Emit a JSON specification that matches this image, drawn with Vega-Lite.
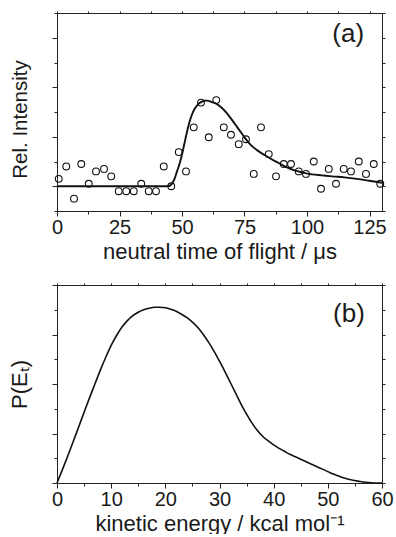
{
  "$schema": "https://vega.github.io/schema/vega-lite/v6.json",
  "padding": {"left": 8, "top": 10, "right": 0, "bottom": 0},
  "spacing": 20,
  "config": {
    "font": "Liberation Sans",
    "view": {"stroke": null},
    "axis": {
      "grid": false,
      "domainColor": "#222",
      "tickColor": "#222",
      "labelColor": "#1a1a1a",
      "titleColor": "#1a1a1a",
      "labelFontSize": 20,
      "titleFontSize": 22,
      "titleFontWeight": "normal",
      "labelFont": "Liberation Sans",
      "titleFont": "Liberation Sans",
      "domainWidth": 1,
      "tickWidth": 1
    }
  },
  "datasets": {
    "pts": [
      {"t": 0.7, "i": 0.15}, {"t": 3.7, "i": 0.4}, {"t": 6.8, "i": -0.25}, {"t": 9.7, "i": 0.45},
      {"t": 12.7, "i": 0.05}, {"t": 15.6, "i": 0.3}, {"t": 18.8, "i": 0.35}, {"t": 21.7, "i": 0.2},
      {"t": 24.7, "i": -0.1}, {"t": 27.7, "i": -0.1}, {"t": 30.7, "i": -0.1}, {"t": 33.7, "i": 0.05},
      {"t": 36.7, "i": -0.1}, {"t": 39.6, "i": -0.1}, {"t": 42.7, "i": 0.4}, {"t": 45.7, "i": 0.0},
      {"t": 48.7, "i": 0.69}, {"t": 51.6, "i": 0.3}, {"t": 54.7, "i": 1.19}, {"t": 57.6, "i": 1.69},
      {"t": 60.7, "i": 0.99}, {"t": 63.7, "i": 1.74}, {"t": 66.7, "i": 1.19}, {"t": 69.6, "i": 1.04},
      {"t": 72.7, "i": 0.85}, {"t": 75.6, "i": 0.95}, {"t": 78.7, "i": 0.25}, {"t": 81.6, "i": 1.19},
      {"t": 84.7, "i": 0.65}, {"t": 87.6, "i": 0.2}, {"t": 90.7, "i": 0.45}, {"t": 93.6, "i": 0.45},
      {"t": 96.7, "i": 0.3}, {"t": 99.6, "i": 0.25}, {"t": 102.7, "i": 0.5}, {"t": 105.6, "i": -0.05},
      {"t": 108.7, "i": 0.35}, {"t": 111.6, "i": 0.05}, {"t": 114.7, "i": 0.35}, {"t": 117.6, "i": 0.3},
      {"t": 120.7, "i": 0.5}, {"t": 123.6, "i": 0.25}, {"t": 126.7, "i": 0.45}, {"t": 129.3, "i": 0.05}
    ],
    "fit": [
      {"t": 0, "i": 0}, {"t": 44, "i": 0}, {"t": 45, "i": 0.01}, {"t": 46, "i": 0.05}, {"t": 47, "i": 0.15},
      {"t": 48, "i": 0.3}, {"t": 49, "i": 0.45}, {"t": 50, "i": 0.64}, {"t": 51, "i": 0.87}, {"t": 52, "i": 1.1},
      {"t": 53, "i": 1.3}, {"t": 54, "i": 1.45}, {"t": 55, "i": 1.56}, {"t": 56, "i": 1.63}, {"t": 57, "i": 1.68},
      {"t": 58, "i": 1.71}, {"t": 59, "i": 1.73}, {"t": 60, "i": 1.73}, {"t": 61, "i": 1.72}, {"t": 62, "i": 1.7},
      {"t": 64, "i": 1.66}, {"t": 66, "i": 1.58}, {"t": 68, "i": 1.47}, {"t": 70, "i": 1.34}, {"t": 72, "i": 1.2},
      {"t": 74, "i": 1.06}, {"t": 76, "i": 0.92}, {"t": 78, "i": 0.81}, {"t": 80, "i": 0.73}, {"t": 83, "i": 0.63},
      {"t": 86, "i": 0.54}, {"t": 89, "i": 0.46}, {"t": 92, "i": 0.38}, {"t": 95, "i": 0.32}, {"t": 98, "i": 0.28},
      {"t": 102, "i": 0.24}, {"t": 106, "i": 0.22}, {"t": 110, "i": 0.2}, {"t": 115, "i": 0.18}, {"t": 120, "i": 0.15},
      {"t": 125, "i": 0.11}, {"t": 130, "i": 0.07}
    ],
    "pe": [
      {"e": 0, "p": 0}, {"e": 1, "p": 0.27}, {"e": 2, "p": 0.55}, {"e": 3, "p": 0.84}, {"e": 4, "p": 1.13},
      {"e": 5, "p": 1.43}, {"e": 6, "p": 1.72}, {"e": 7, "p": 2.0}, {"e": 8, "p": 2.28}, {"e": 9, "p": 2.54},
      {"e": 10, "p": 2.78}, {"e": 11, "p": 2.98}, {"e": 12, "p": 3.15}, {"e": 13, "p": 3.28}, {"e": 14, "p": 3.38},
      {"e": 15, "p": 3.45}, {"e": 16, "p": 3.5}, {"e": 17, "p": 3.53}, {"e": 18, "p": 3.55}, {"e": 19, "p": 3.55},
      {"e": 20, "p": 3.54}, {"e": 21, "p": 3.51}, {"e": 22, "p": 3.47}, {"e": 23, "p": 3.41}, {"e": 24, "p": 3.34},
      {"e": 25, "p": 3.25}, {"e": 26, "p": 3.14}, {"e": 27, "p": 3.0}, {"e": 28, "p": 2.84}, {"e": 29, "p": 2.66},
      {"e": 30, "p": 2.46}, {"e": 31, "p": 2.25}, {"e": 32, "p": 2.03}, {"e": 33, "p": 1.81}, {"e": 34, "p": 1.59},
      {"e": 35, "p": 1.39}, {"e": 36, "p": 1.21}, {"e": 37, "p": 1.06}, {"e": 38, "p": 0.94}, {"e": 39, "p": 0.85},
      {"e": 40, "p": 0.77}, {"e": 41, "p": 0.7}, {"e": 42, "p": 0.64}, {"e": 43, "p": 0.58}, {"e": 44, "p": 0.53},
      {"e": 45, "p": 0.48}, {"e": 46, "p": 0.43}, {"e": 47, "p": 0.38}, {"e": 48, "p": 0.33}, {"e": 49, "p": 0.28},
      {"e": 50, "p": 0.23}, {"e": 51, "p": 0.18}, {"e": 52, "p": 0.14}, {"e": 53, "p": 0.1}, {"e": 54, "p": 0.07},
      {"e": 55, "p": 0.05}, {"e": 56, "p": 0.03}, {"e": 57, "p": 0.015}, {"e": 58, "p": 0.005}, {"e": 59, "p": 0},
      {"e": 60, "p": 0}
    ]
  },
  "vconcat": [
    {
      "width": 325,
      "height": 198,
      "layer": [
        {
          "data": {"name": "pts"},
          "mark": {"type": "point", "shape": "circle", "filled": false, "stroke": "#111", "strokeWidth": 1.1, "size": 46, "opacity": 1},
          "encoding": {
            "x": {
              "field": "t", "type": "quantitative",
              "scale": {"domain": [0, 130], "nice": false, "zero": false},
              "axis": {
                "orient": "bottom",
                "values": [0, 12.5, 25, 37.5, 50, 62.5, 75, 87.5, 100, 112.5, 125],
                "tickSize": {"condition": {"test": "datum.value % 25 === 0", "value": 5}, "value": 3},
                "labelExpr": "datum.value % 25 === 0 ? datum.label : ''",
                "labelPadding": 1,
                "labelFlush": false,
                "labelOverlap": false,
                "title": "neutral time of flight / μs",
                "titlePadding": 4
              }
            },
            "y": {
              "field": "i", "type": "quantitative",
              "scale": {"domain": [-0.5, 3.5], "nice": false, "zero": false},
              "axis": {
                "orient": "left",
                "values": [-0.5, 0, 0.5, 1, 1.5, 2, 2.5, 3, 3.5],
                "tickSize": {"condition": {"test": "datum.value % 1 === 0", "value": 5}, "value": 3},
                "labels": false,
                "title": "Rel. Intensity",
                "titleFontSize": 20.5,
                "titleY": 106,
                "titlePadding": 21
              }
            }
          }
        },
        {
          "data": {"name": "fit"},
          "mark": {"type": "line", "color": "#111", "strokeWidth": 1.9, "interpolate": "monotone"},
          "encoding": {
            "x": {
              "field": "t", "type": "quantitative",
              "axis": {"orient": "top", "values": [0, 12.5, 25, 37.5, 50, 62.5, 75, 87.5, 100, 112.5, 125], "labels": false, "tickSize": 2, "title": null}
            },
            "y": {
              "field": "i", "type": "quantitative",
              "axis": {"orient": "right", "values": [-0.5, 0, 0.5, 1, 1.5, 2, 2.5, 3, 3.5], "labels": false, "tickSize": 3, "title": null}
            }
          }
        },
        {
          "data": {"values": [{"label": "(a)", "x": 116.5, "y": 3.07}]},
          "mark": {"type": "text", "fontSize": 26, "align": "center", "baseline": "middle", "color": "#1a1a1a", "font": "Liberation Sans"},
          "encoding": {
            "x": {"field": "x", "type": "quantitative", "axis": null},
            "y": {"field": "y", "type": "quantitative", "axis": null},
            "text": {"field": "label"}
          }
        }
      ],
      "resolve": {"axis": {"x": "independent", "y": "independent"}}
    },
    {
      "width": 325,
      "height": 198,
      "layer": [
        {
          "data": {"name": "pe"},
          "mark": {"type": "line", "color": "#111", "strokeWidth": 1.6, "interpolate": "monotone"},
          "encoding": {
            "x": {
              "field": "e", "type": "quantitative",
              "scale": {"domain": [0, 60], "nice": false, "zero": false},
              "axis": {
                "orient": "bottom",
                "values": [0, 5, 10, 15, 20, 25, 30, 35, 40, 45, 50, 55, 60],
                "tickSize": {"condition": {"test": "datum.value % 10 === 0", "value": 5}, "value": 3},
                "labelExpr": "datum.value % 10 === 0 ? datum.label : ''",
                "labelPadding": 1,
                "labelFlush": false,
                "labelOverlap": false,
                "title": "kinetic energy / kcal mol⁻¹",
                "titlePadding": 4
              }
            },
            "y": {
              "field": "p", "type": "quantitative",
              "scale": {"domain": [0, 4], "nice": false, "zero": false},
              "axis": {
                "orient": "left",
                "values": [0, 0.5, 1, 1.5, 2, 2.5, 3, 3.5, 4],
                "tickSize": {"condition": {"test": "datum.value % 1 === 0", "value": 5}, "value": 3},
                "labels": false,
                "title": "P(Eₜ)",
                "titlePadding": 20
              }
            }
          }
        },
        {
          "data": {"name": "pe"},
          "mark": {"type": "line", "opacity": 0},
          "encoding": {
            "x": {
              "field": "e", "type": "quantitative",
              "axis": {"orient": "top", "values": [0, 5, 10, 15, 20, 25, 30, 35, 40, 45, 50, 55, 60], "labels": false, "tickSize": 2, "title": null}
            },
            "y": {
              "field": "p", "type": "quantitative",
              "axis": {"orient": "right", "values": [0, 0.5, 1, 1.5, 2, 2.5, 3, 3.5, 4], "labels": false, "tickSize": 3, "title": null}
            }
          }
        },
        {
          "data": {"values": [{"label": "(b)", "x": 53.9, "y": 3.42}]},
          "mark": {"type": "text", "fontSize": 26, "align": "center", "baseline": "middle", "color": "#1a1a1a", "font": "Liberation Sans"},
          "encoding": {
            "x": {"field": "x", "type": "quantitative", "axis": null},
            "y": {"field": "y", "type": "quantitative", "axis": null},
            "text": {"field": "label"}
          }
        }
      ],
      "resolve": {"axis": {"x": "independent", "y": "independent"}}
    }
  ]
}
